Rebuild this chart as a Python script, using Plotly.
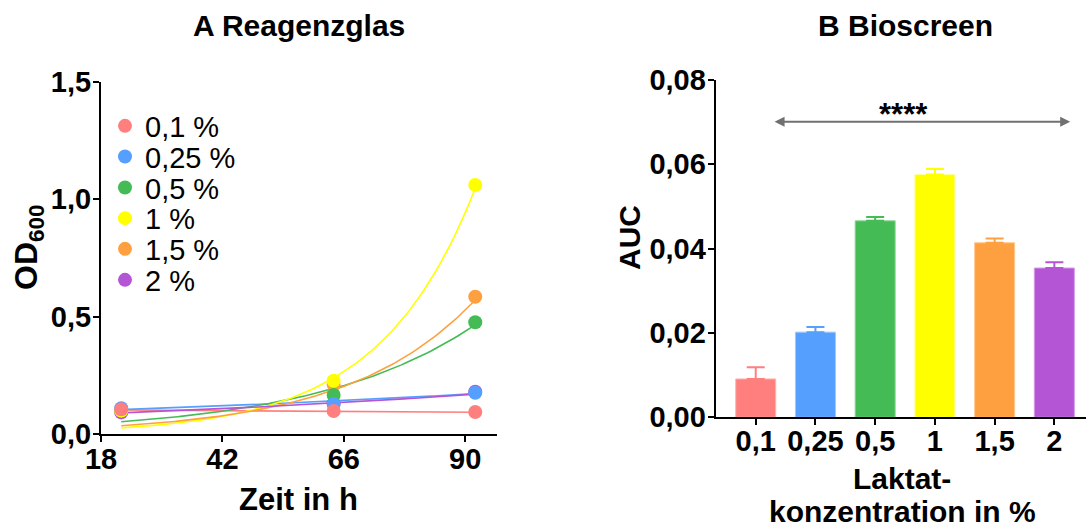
import numpy as np
import plotly.graph_objects as go

# ---------------- Data ----------------
series_names = ["0,1 %", "0,25 %", "0,5 %", "1 %", "1,5 %", "2 %"]
colors = ["#FF7F7F", "#559FFF", "#44BB55", "#FFFF00", "#FFA040", "#B455D5"]
bar_edge = ["#FFB5B5", "#A0C8FF", "#8FD69A", "#FFFF99", "#FFC88F", "#D59BE8"]

times = [22, 64, 92]
od_01 = [0.105, 0.098, 0.094]
od_025 = [0.110, 0.128, 0.176]
od_05 = [0.100, 0.166, 0.476]
od_1 = [0.100, 0.227, 1.061]
od_15 = [0.100, 0.210, 0.585]
od_2 = [0.092, 0.130, 0.180]
od_series = [od_01, od_025, od_05, od_1, od_15, od_2]

# exponential growth fit parameters (Y0 at first time point, rate k per h)
fit_y0 = [0.102, 0.104, 0.052, 0.026, 0.035, 0.090]
fit_k = [-0.00132, 0.00719, 0.0313, 0.0528, 0.0399, 0.00909]

bar_categories = ["0,1", "0,25", "0,5", "1", "1,5", "2"]
auc_mean = [0.0091, 0.0202, 0.0466, 0.0576, 0.0414, 0.0354]
auc_err = [0.0028, 0.0012, 0.0009, 0.0013, 0.0010, 0.0014]

left_xticks = [18, 42, 66, 90]

# ---------------- Layout helpers ----------------
W, H = 1086, 529
def px(xp):
    return xp / W
def py(yp):
    return 1 - yp / H

FONT = "Arial, Liberation Sans, sans-serif"

fig = go.Figure()

# fit curves (drawn first)
t_fit = np.linspace(times[0], times[-1], 120)
for i in range(6):
    yfit = fit_y0[i] * np.exp(fit_k[i] * (t_fit - times[0]))
    fig.add_trace(go.Scatter(x=t_fit, y=yfit, mode="lines",
                             line=dict(color=colors[i], width=1.6),
                             showlegend=False, hoverinfo="skip",
                             xaxis="x", yaxis="y"))

# data points; draw order so that pink is on top
draw_order = [5, 4, 2, 3, 1, 0]
legend_ids = ["legend", "legend2", "legend3", "legend4", "legend5", "legend6"]
for i in draw_order:
    fig.add_trace(go.Scatter(x=times, y=od_series[i], mode="markers",
                             marker=dict(color=colors[i], size=14),
                             name=series_names[i], legend=legend_ids[i],
                             xaxis="x", yaxis="y", cliponaxis=False))

# bars
for i in range(6):
    fig.add_trace(go.Bar(x=[bar_categories[i]], y=[auc_mean[i]],
                         marker=dict(color=colors[i], line=dict(color=bar_edge[i], width=1)),
                         width=0.67,
                         error_y=dict(type="data", array=[auc_err[i]], arrayminus=[0],
                                      symmetric=False, color=colors[i], thickness=2, width=9),
                         showlegend=False, xaxis="x2", yaxis="y2"))

axis_common = dict(showline=True, linewidth=2, linecolor="black", ticks="outside",
                   ticklen=6, tickwidth=2, tickcolor="black", showgrid=False, zeroline=False,
                   automargin=False,
                   tickfont=dict(family=FONT, size=29, color="black", weight="bold"))

legend_rows = [126, 156.7, 187.7, 218.3, 249, 280]
legend_layout = {}
for i, lid in enumerate(legend_ids):
    legend_layout[lid] = dict(x=px(105), y=py(legend_rows[i]), xanchor="left", yanchor="middle",
                              bgcolor="rgba(0,0,0,0)", borderwidth=0,
                              font=dict(family=FONT, size=29, color="black"),
                              itemclick=False, itemdoubleclick=False)

fig.update_layout(
    template="none",
    width=W, height=H,
    margin=dict(l=0, r=0, t=0, b=0, pad=0, autoexpand=False),
    paper_bgcolor="white", plot_bgcolor="white",
    separators=",.",
    barmode="overlay",
    font=dict(family=FONT, color="black"),
    xaxis=dict(domain=[px(101), px(497)], range=[18, 96.3], tickvals=left_xticks,
               anchor="y", ticklabelstandoff=-8, **axis_common),
    yaxis=dict(domain=[py(434), py(82)], range=[0, 1.5], dtick=0.5, tickformat=".1f",
               anchor="x", ticklabelstandoff=-4, **axis_common),
    xaxis2=dict(domain=[px(715.7), 1.0], range=[-0.67, 5.53], type="category",
                anchor="y2", ticklabelstandoff=-9, **axis_common),
    yaxis2=dict(domain=[py(417.3), py(80)], range=[0, 0.08], dtick=0.02, tickformat=".2f",
                anchor="x2", ticklabelstandoff=-4, **axis_common),
    **legend_layout,
)

ann = []
# titles
ann.append(dict(text="<b>A Reagenzglas</b>", x=px(298.5), y=py(25), xref="paper", yref="paper",
                showarrow=False, xanchor="center", yanchor="middle", font=dict(size=30)))
ann.append(dict(text="<b>B Bioscreen</b>", x=px(905), y=py(25), xref="paper", yref="paper",
                showarrow=False, xanchor="center", yanchor="middle", font=dict(size=30)))
# axis titles
ann.append(dict(text="<b>Zeit in h</b>", x=px(298.5), y=py(499), xref="paper", yref="paper",
                showarrow=False, xanchor="center", yanchor="middle", font=dict(size=31)))
ann.append(dict(text="<b>Laktat-</b>", x=px(902), y=py(478), xref="paper", yref="paper",
                showarrow=False, xanchor="center", yanchor="middle", font=dict(size=30)))
ann.append(dict(text="<b>konzentration in %</b>", x=px(902), y=py(511), xref="paper", yref="paper",
                showarrow=False, xanchor="center", yanchor="middle", font=dict(size=30)))
ann.append(dict(text="<b>OD<sub>600</sub></b>", x=px(28), y=py(248), xref="paper", yref="paper",
                showarrow=False, xanchor="center", yanchor="middle", textangle=-90, font=dict(size=32)))
ann.append(dict(text="<b>AUC</b>", x=px(629), y=py(238), xref="paper", yref="paper",
                showarrow=False, xanchor="center", yanchor="middle", textangle=-90, font=dict(size=30)))
# significance bracket
ann.append(dict(x=5.265, y=0.0701, ax=0.29, ay=0.0701, xref="x2", yref="y2", axref="x2", ayref="y2",
                text="", showarrow=True, arrowhead=2, startarrowhead=2, arrowside="end+start",
                arrowsize=1, arrowwidth=2, arrowcolor="#707070"))
ann.append(dict(text="<b>****</b>", x=px(903), y=py(115), xref="paper", yref="paper", showarrow=False,
                xanchor="center", yanchor="middle", font=dict(size=31, color="black")))
fig.update_layout(annotations=ann)

fig.write_html("out.html", config={"displayModeBar": False},
               post_script="document.body.style.margin='0px';document.body.style.overflow='hidden';")
